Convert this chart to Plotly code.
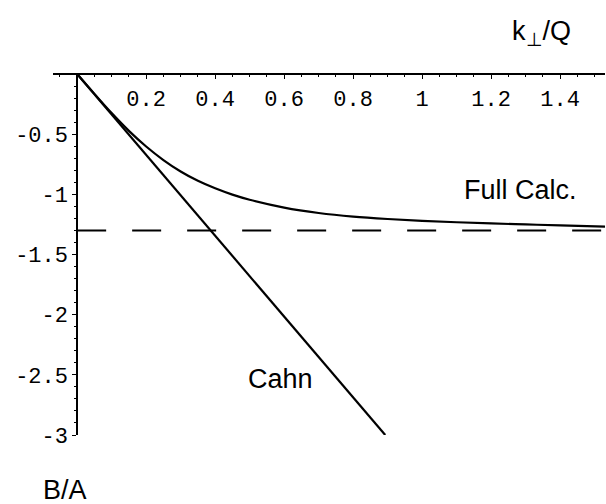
import plotly.graph_objects as go

# data
full_x = [0, 0.05, 0.10, 0.15, 0.20, 0.25, 0.30, 0.35, 0.40, 0.45, 0.50, 0.60, 0.70, 0.80, 0.90, 1.00, 1.10, 1.20, 1.30, 1.40, 1.53]
full_y = [0, -0.165, -0.325, -0.4725, -0.6025, -0.715, -0.81, -0.8875, -0.95, -1.0025, -1.045, -1.11, -1.155, -1.185, -1.205, -1.22, -1.232, -1.242, -1.25, -1.258, -1.268]
cahn_x = [0, 0.893]
cahn_y = [0, -3.0]
asym_x = [0, 1.53]
asym_y = [-1.30, -1.30]

xticks = [0.2, 0.4, 0.6, 0.8, 1.0, 1.2, 1.4]
xticktext = ["0.2", "0.4", "0.6", "0.8", "1", "1.2", "1.4"]
yticks = [-0.5, -1.0, -1.5, -2.0, -2.5, -3.0]
yticktext = ["-0.5", "-1", "-1.5", "-2", "-2.5", "-3"]

fig = go.Figure()
fig.add_trace(go.Scatter(x=asym_x, y=asym_y, mode="lines",
                         line=dict(color="black", width=2, dash="29px,26px")))
fig.add_trace(go.Scatter(x=cahn_x, y=cahn_y, mode="lines",
                         line=dict(color="black", width=2.2)))
fig.add_trace(go.Scatter(x=full_x, y=full_y, mode="lines", line_shape="spline",
                         line=dict(color="black", width=2.2)))

xmin, xmax = -0.07, 1.53
tickfont = dict(family="Liberation Mono", size=22, color="black")
txtfont = dict(family="Liberation Sans, Arial", size=27, color="black")

fig.update_layout(
    width=606, height=504,
    margin=dict(l=53, r=1, t=74, b=69),
    paper_bgcolor="white", plot_bgcolor="white",
    showlegend=False,
    xaxis=dict(range=[xmin, xmax], anchor="free", position=1, side="bottom",
               automargin=False,
               showline=True, linecolor="black", linewidth=1.6,
               showgrid=False, zeroline=False,
               tickmode="array", tickvals=xticks, ticktext=xticktext,
               ticks="outside", ticklen=4, tickcolor="black", tickwidth=1.3,
               tickfont=tickfont, ticklabelstandoff=1,
               minor=dict(ticks="outside", ticklen=2, dtick=0.05, tick0=0,
                          tickcolor="black", showgrid=False)),
    yaxis=dict(range=[-3, 0], anchor="free", position=(0 - xmin) / (xmax - xmin),
               automargin=False,
               showline=True, linecolor="black", linewidth=1.6,
               showgrid=False, zeroline=False,
               tickmode="array", tickvals=yticks, ticktext=yticktext,
               ticks="outside", ticklen=4, tickcolor="black", tickwidth=1.3,
               tickfont=tickfont, ticklabelstandoff=0,
               minor=dict(ticks="outside", ticklen=2, dtick=0.1, tick0=0,
                          tickcolor="black", showgrid=False)),
    annotations=[
        dict(text="Full Calc.", x=1.284, y=-0.964, xref="x", yref="y",
             xanchor="center", yanchor="middle", showarrow=False, font=txtfont),
        dict(text="Cahn", x=0.588, y=-2.535, xref="x", yref="y",
             xanchor="center", yanchor="middle", showarrow=False, font=txtfont),
        dict(text="k<sub>⊥</sub>/Q", x=1.345, y=1.113, xref="x", yref="paper",
             xanchor="center", yanchor="middle", showarrow=False, font=txtfont),
        dict(text="B/A", x=0.0217, y=-0.152, xref="paper", yref="paper",
             xanchor="center", yanchor="middle", showarrow=False, font=txtfont),
    ],
)

fig.write_html("out.html", config={"displayModeBar": False},
               post_script="document.body.style.margin='0';document.body.style.overflow='hidden';")
